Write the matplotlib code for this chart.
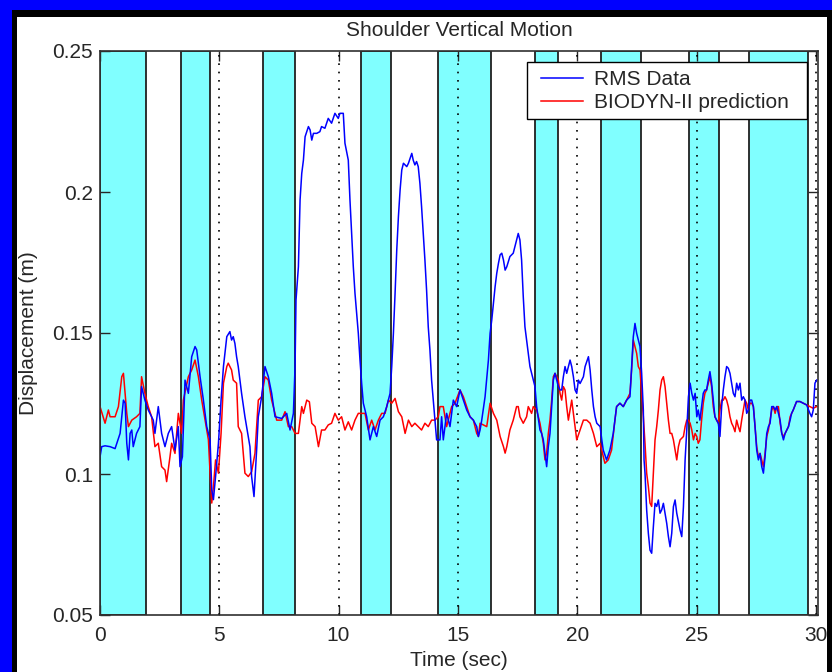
import matplotlib
matplotlib.use("Agg")
import matplotlib.pyplot as plt
from matplotlib import font_manager
from matplotlib.patches import Rectangle

# ---------------- data ----------------
band_starts = [0.0, 3.39, 6.84, 10.96, 14.16, 18.23, 21.0, 24.67, 27.2]
band_ends = [1.95, 4.63, 8.19, 12.2, 16.38, 19.21, 22.69, 25.92, 29.66]

time_rms = [0.01, 0.08, 0.22, 0.43, 0.64, 0.85, 0.99, 1.06, 1.13, 1.20, 1.27, 1.34, 1.40, 1.54, 1.68, 1.75,
            1.89, 2.03, 2.24, 2.31, 2.45, 2.59, 2.73, 2.87, 3.01, 3.15, 3.29, 3.36, 3.46, 3.57, 3.71, 3.85,
            3.99, 4.06, 4.20, 4.34, 4.48, 4.62, 4.69, 4.76, 4.85, 4.97, 5.08, 5.18, 5.32, 5.45, 5.52, 5.59,
            5.66, 5.73, 5.80, 5.94, 6.08, 6.15, 6.29, 6.36, 6.46, 6.57, 6.64, 6.78, 6.92, 7.06, 7.20, 7.34,
            7.62, 7.83, 7.97, 8.11, 8.18, 8.22, 8.32, 8.39, 8.46, 8.53, 8.60, 8.74, 8.81, 8.88, 8.95, 9.09,
            9.22, 9.29, 9.43, 9.57, 9.71, 9.85, 9.99, 10.06, 10.20, 10.27, 10.41, 10.48, 10.55, 10.62, 10.69,
            10.83, 10.90, 10.97, 11.04, 11.18, 11.32, 11.46, 11.60, 11.74, 11.88, 12.02, 12.16, 12.23, 12.30,
            12.37, 12.44, 12.51, 12.58, 12.65, 12.72, 12.86, 12.93, 13.07, 13.13, 13.20, 13.27, 13.34, 13.41,
            13.48, 13.55, 13.62, 13.69, 13.76, 13.83, 13.90, 13.97, 14.04, 14.11, 14.25, 14.32, 14.39, 14.53,
            14.67, 14.81, 14.95, 15.09, 15.23, 15.37, 15.51, 15.65, 15.79, 15.86, 15.93, 16.00, 16.14, 16.28,
            16.35, 16.42, 16.49, 16.56, 16.63, 16.70, 16.77, 16.84, 16.91, 16.98, 17.05, 17.18, 17.32, 17.39,
            17.46, 17.53, 17.60, 17.67, 17.74, 17.81, 17.88, 17.95, 18.02, 18.16, 18.23, 18.30, 18.44, 18.51,
            18.58, 18.65, 18.72, 18.79, 18.86, 18.93, 19.00, 19.07, 19.14, 19.21, 19.28, 19.35, 19.42, 19.49,
            19.56, 19.70, 19.77, 19.84, 19.91, 19.98, 20.05, 20.12, 20.26, 20.33, 20.47, 20.54, 20.61, 20.68,
            20.75, 20.82, 20.96, 21.03, 21.09, 21.23, 21.37, 21.51, 21.58, 21.65, 21.79, 21.93, 22.07, 22.21,
            22.28, 22.35, 22.42, 22.49, 22.63, 22.70, 22.77, 22.80, 22.84, 22.91, 22.98, 23.05, 23.12, 23.19,
            23.26, 23.33, 23.40, 23.47, 23.54, 23.61, 23.68, 23.75, 23.82, 23.89, 23.96, 24.03, 24.10, 24.17,
            24.31, 24.38, 24.45, 24.52, 24.59, 24.66, 24.73, 24.80, 24.87, 24.94, 25.01, 25.07, 25.14, 25.21,
            25.28, 25.35, 25.42, 25.49, 25.56, 25.63, 25.70, 25.77, 25.84, 25.91, 25.98, 26.05, 26.12, 26.19,
            26.26, 26.33, 26.40, 26.47, 26.54, 26.61, 26.68, 26.75, 26.82, 26.89, 26.96, 27.03, 27.10, 27.17,
            27.24, 27.31, 27.38, 27.45, 27.52, 27.59, 27.66, 27.73, 27.80, 27.87, 27.94, 28.01, 28.08, 28.15,
            28.22, 28.29, 28.36, 28.43, 28.50, 28.57, 28.64, 28.71, 28.78, 28.85, 28.92, 28.98, 29.05, 29.19,
            29.33, 29.47, 29.61, 29.75, 29.82, 29.89, 29.96, 30.03]
rms_data = [0.1061, 0.1097, 0.1100, 0.1097, 0.1090, 0.1144, 0.1262, 0.1251, 0.1109, 0.1050, 0.1144, 0.1156,
            0.1097, 0.1144, 0.1168, 0.1310, 0.1262, 0.1227, 0.1191, 0.1144, 0.1239, 0.1144, 0.1097, 0.1144,
            0.1168, 0.1085, 0.1168, 0.1026, 0.1061, 0.1333, 0.1286, 0.1416, 0.1452, 0.1440, 0.1345, 0.1262,
            0.1168, 0.1121, 0.0944, 0.0909, 0.0991, 0.1109, 0.1262, 0.1381, 0.1487, 0.1505, 0.1475, 0.1487,
            0.1463, 0.1416, 0.1381, 0.1286, 0.1203, 0.1168, 0.1097, 0.0991, 0.0920, 0.1085, 0.1203, 0.1274,
            0.1381, 0.1345, 0.1286, 0.1203, 0.1197, 0.1215, 0.1156, 0.1215, 0.1381, 0.1617, 0.1735, 0.1972,
            0.2066, 0.2113, 0.2196, 0.2232, 0.2220, 0.2184, 0.2208, 0.2208, 0.2214, 0.2232, 0.2226, 0.2261,
            0.2244, 0.2279, 0.2261, 0.2279, 0.2279, 0.2173, 0.2113, 0.1972, 0.1853, 0.1735, 0.1641, 0.1499,
            0.1404, 0.1321, 0.1251, 0.1203, 0.1121, 0.1168, 0.1133, 0.1191, 0.1203, 0.1239, 0.1286, 0.1381,
            0.1499, 0.1641, 0.1794, 0.1913, 0.2007, 0.2078, 0.2102, 0.2090, 0.2102, 0.2137, 0.2113, 0.2096,
            0.2108, 0.2090, 0.2031, 0.1948, 0.1853, 0.1759, 0.1652, 0.1522, 0.1440, 0.1333, 0.1262, 0.1191,
            0.1121, 0.1121, 0.1203, 0.1121, 0.1215, 0.1168, 0.1262, 0.1239, 0.1298, 0.1262, 0.1227, 0.1203,
            0.1191, 0.1168, 0.1133, 0.1156, 0.1191, 0.1274, 0.1404, 0.1499, 0.1546, 0.1605, 0.1664, 0.1712,
            0.1747, 0.1777, 0.1783, 0.1759, 0.1723, 0.1735, 0.1771, 0.1783, 0.1806, 0.1830, 0.1853, 0.1830,
            0.1759, 0.1629, 0.1522, 0.1475, 0.1428, 0.1381, 0.1333, 0.1310, 0.1239, 0.1156, 0.1144, 0.1121,
            0.1074, 0.1026, 0.1097, 0.1144, 0.1239, 0.1333, 0.1357, 0.1333, 0.1310, 0.1298, 0.1298, 0.1345,
            0.1381, 0.1357, 0.1404, 0.1381, 0.1345, 0.1298, 0.1286, 0.1333, 0.1321, 0.1345, 0.1381, 0.1416,
            0.1369, 0.1298, 0.1239, 0.1203, 0.1180, 0.1168, 0.1121, 0.1085, 0.1050, 0.1085, 0.1144, 0.1191,
            0.1239, 0.1251, 0.1239, 0.1262, 0.1274, 0.1381, 0.1487, 0.1534, 0.1499, 0.1452, 0.1357, 0.1227,
            0.1050, 0.1003, 0.0872, 0.0790, 0.0730, 0.0719, 0.0813, 0.0896, 0.0885, 0.0908, 0.0861, 0.0873,
            0.0896, 0.0861, 0.0825, 0.0778, 0.0742, 0.0790, 0.0884, 0.0908, 0.0861, 0.0801, 0.0778, 0.0884,
            0.1050, 0.1156, 0.1274, 0.1322, 0.1286, 0.1262, 0.1286, 0.1203, 0.1227, 0.1191, 0.1239, 0.1286,
            0.1298, 0.1298, 0.1333, 0.1363, 0.1322, 0.1262, 0.1203, 0.1191, 0.1180, 0.1133, 0.1239, 0.1298,
            0.1345, 0.1381, 0.1375, 0.1357, 0.1322, 0.1286, 0.1274, 0.1322, 0.1298, 0.1322, 0.1262, 0.1274,
            0.1262, 0.1215, 0.1227, 0.1262, 0.1262, 0.1239, 0.1168, 0.1085, 0.1050, 0.1073, 0.1026, 0.1003,
            0.1061, 0.1144, 0.1168, 0.1180, 0.1239, 0.1239, 0.1227, 0.1239, 0.1215, 0.1191, 0.1144, 0.1121,
            0.1144, 0.1156, 0.1168, 0.1191, 0.1215, 0.1227, 0.1257, 0.1257, 0.1251, 0.1245, 0.1215, 0.1203,
            0.1227, 0.1322, 0.1333]

time_bio = [0.01, 0.22, 0.36, 0.43, 0.64, 0.78, 0.92, 0.99, 1.06, 1.13, 1.20, 1.34, 1.54, 1.68, 1.75, 1.89,
            2.03, 2.17, 2.31, 2.45, 2.59, 2.73, 2.80, 2.94, 3.01, 3.15, 3.29, 3.43, 3.50, 3.71, 3.85, 3.99,
            4.13, 4.27, 4.41, 4.55, 4.62, 4.69, 4.76, 4.85, 4.97, 5.08, 5.18, 5.32, 5.38, 5.52, 5.59, 5.73,
            5.80, 5.94, 6.08, 6.22, 6.36, 6.50, 6.64, 6.78, 6.92, 7.06, 7.20, 7.41, 7.62, 7.76, 7.90, 8.04,
            8.18, 8.32, 8.46, 8.53, 8.67, 8.78, 8.88, 9.02, 9.16, 9.29, 9.43, 9.57, 9.71, 9.85, 9.99, 10.13,
            10.27, 10.41, 10.55, 10.69, 10.83, 10.97, 11.11, 11.25, 11.39, 11.53, 11.67, 11.81, 11.95, 12.09,
            12.23, 12.37, 12.51, 12.65, 12.79, 12.93, 13.07, 13.20, 13.34, 13.48, 13.62, 13.76, 13.90, 14.04,
            14.18, 14.25, 14.39, 14.53, 14.74, 14.88, 15.09, 15.23, 15.37, 15.51, 15.65, 15.79, 15.86, 15.93,
            16.07, 16.21, 16.35, 16.49, 16.63, 16.77, 16.91, 16.98, 17.05, 17.18, 17.32, 17.46, 17.53, 17.60,
            17.74, 17.88, 17.95, 18.09, 18.16, 18.30, 18.44, 18.58, 18.65, 18.72, 18.79, 18.86, 18.93, 19.00,
            19.07, 19.14, 19.21, 19.28, 19.35, 19.42, 19.49, 19.56, 19.63, 19.77, 19.91, 19.98, 20.12, 20.26,
            20.40, 20.54, 20.68, 20.82, 20.96, 21.09, 21.16, 21.30, 21.44, 21.58, 21.65, 21.79, 21.93, 22.07,
            22.21, 22.28, 22.35, 22.42, 22.49, 22.56, 22.63, 22.70, 22.77, 22.84, 22.91, 22.98, 23.05, 23.12,
            23.19, 23.26, 23.33, 23.40, 23.47, 23.54, 23.61, 23.68, 23.75, 23.82, 23.89, 23.96, 24.03, 24.10,
            24.17, 24.24, 24.31, 24.45, 24.52, 24.59, 24.66, 24.73, 24.80, 24.87, 24.94, 25.01, 25.07, 25.14,
            25.21, 25.28, 25.35, 25.42, 25.49, 25.56, 25.63, 25.70, 25.77, 25.84, 25.91, 25.98, 26.05, 26.12,
            26.19, 26.26, 26.33, 26.40, 26.47, 26.54, 26.61, 26.68, 26.75, 26.82, 26.89, 26.96, 27.03, 27.10,
            27.17, 27.24, 27.31, 27.38, 27.45, 27.52, 27.59, 27.66, 27.73, 27.80, 27.87, 27.94, 28.01, 28.08,
            28.15, 28.22, 28.29, 28.36, 28.43, 28.50, 28.57, 28.64, 28.71, 28.78, 28.85, 28.92, 29.05, 29.19,
            29.33, 29.47, 29.61, 29.75, 29.89, 30.03]
biodyn_pred = [0.1239, 0.1180, 0.1227, 0.1203, 0.1203, 0.1239, 0.1345, 0.1357, 0.1286, 0.1215, 0.1168, 0.1191,
               0.1203, 0.1215, 0.1345, 0.1286, 0.1239, 0.1203, 0.1097, 0.1109, 0.1026, 0.1014, 0.0973, 0.1061,
               0.1109, 0.1073, 0.1215, 0.1144, 0.1262, 0.1345, 0.1369, 0.1404, 0.1345, 0.1262, 0.1191, 0.1121,
               0.1003, 0.0897, 0.0956, 0.1050, 0.1003, 0.1144, 0.1322, 0.1381, 0.1393, 0.1369, 0.1333, 0.1322,
               0.1168, 0.1144, 0.1003, 0.0991, 0.1008, 0.1073, 0.1262, 0.1274, 0.1345, 0.1333, 0.1262, 0.1191,
               0.1191, 0.1221, 0.1168, 0.1168, 0.1144, 0.1144, 0.1239, 0.1215, 0.1262, 0.1256, 0.1180, 0.1168,
               0.1097, 0.1156, 0.1156, 0.1174, 0.1180, 0.1215, 0.1191, 0.1203, 0.1156, 0.1185, 0.1156, 0.1191,
               0.1215, 0.1215, 0.1215, 0.1156, 0.1191, 0.1156, 0.1191, 0.1215, 0.1215, 0.1262, 0.1251, 0.1268,
               0.1221, 0.1203, 0.1144, 0.1191, 0.1168, 0.1180, 0.1168, 0.1156, 0.1180, 0.1168, 0.1191, 0.1191,
               0.1203, 0.1239, 0.1239, 0.1168, 0.1239, 0.1251, 0.1298, 0.1274, 0.1239, 0.1203, 0.1191, 0.1144,
               0.1133, 0.1180, 0.1174, 0.1168, 0.1251, 0.1215, 0.1191, 0.1133, 0.1097, 0.1074, 0.1097, 0.1156,
               0.1191, 0.1239, 0.1239, 0.1203, 0.1180, 0.1203, 0.1239, 0.1215, 0.1239, 0.1227, 0.1180, 0.1109,
               0.1050, 0.1074, 0.1144, 0.1191, 0.1262, 0.1345, 0.1357, 0.1345, 0.1333, 0.1286, 0.1262, 0.1310,
               0.1298, 0.1239, 0.1191, 0.1262, 0.1168, 0.1121, 0.1156, 0.1191, 0.1191, 0.1180, 0.1144, 0.1097,
               0.1109, 0.1062, 0.1038, 0.1050, 0.1085, 0.1191, 0.1239, 0.1251, 0.1239, 0.1262, 0.1286, 0.1369,
               0.1475, 0.1452, 0.1428, 0.1381, 0.1369, 0.1286, 0.1203, 0.1109, 0.1003, 0.0956, 0.0897, 0.0885,
               0.1003, 0.1121, 0.1168, 0.1227, 0.1298, 0.1333, 0.1345, 0.1310, 0.1251, 0.1191, 0.1144, 0.1144,
               0.1121, 0.1085, 0.1050, 0.1097, 0.1121, 0.1133, 0.1168, 0.1191, 0.1191, 0.1180, 0.1156, 0.1121,
               0.1144, 0.1133, 0.1109, 0.1121, 0.1191, 0.1251, 0.1286, 0.1298, 0.1322, 0.1345, 0.1310, 0.1239,
               0.1203, 0.1191, 0.1180, 0.1227, 0.1262, 0.1262, 0.1274, 0.1262, 0.1239, 0.1203, 0.1180, 0.1168,
               0.1150, 0.1191, 0.1168, 0.1150, 0.1191, 0.1227, 0.1262, 0.1251, 0.1227, 0.1251, 0.1251, 0.1239,
               0.1168, 0.1097, 0.1061, 0.1073, 0.1050, 0.1026, 0.1073, 0.1133, 0.1156, 0.1191, 0.1227, 0.1239,
               0.1215, 0.1239, 0.1239, 0.1180, 0.1144, 0.1133, 0.1144, 0.1156, 0.1168, 0.1203, 0.1227, 0.1257,
               0.1257, 0.1251, 0.1245, 0.1239, 0.1233, 0.1239]

x_ticks = [0, 5, 10, 15, 20, 25, 30]
y_ticks = [0.05, 0.1, 0.15, 0.2, 0.25]
y_tick_labels = ["0.05", "0.1", "0.15", "0.2", "0.25"]

# ---------------- fonts ----------------
names = {f.name for f in font_manager.fontManager.ttflist}
if "Liberation Sans Narrow" in names:
    FONT = ["Liberation Sans Narrow", "DejaVu Sans"]
    FS = 18
else:
    FONT = ["Liberation Sans", "DejaVu Sans"]
    FS = 15
plt.rcParams["font.family"] = FONT
TXT = "#262626"

W, H = 832, 672
fig = plt.figure(figsize=(W / 100, H / 100), dpi=100, facecolor="#0000FF")

# black frame and white panel
fig.add_artist(Rectangle((12 / W, 0), (W - 12) / W, (H - 10) / H, transform=fig.transFigure,
                         facecolor="black", edgecolor="none", zorder=-20))
fig.add_artist(Rectangle((17 / W, 0), (827 - 17) / W, (H - 17) / H, transform=fig.transFigure,
                         facecolor="white", edgecolor="none", zorder=-19))
# right black strip clipping the figure
fig.add_artist(Rectangle((827 / W, 0), 5 / W, (H - 10) / H, transform=fig.transFigure,
                         facecolor="black", edgecolor="none", zorder=20))

left_px, right_px, top_px, bottom_px = 99.8, 818.3, 51, 615
ax = fig.add_axes([left_px / W, 1 - bottom_px / H, (right_px - left_px) / W, (bottom_px - top_px) / H])
ax.set_facecolor("white")

for s, e in zip(band_starts, band_ends):
    ax.axvspan(s, e, facecolor="#80FFFF", edgecolor="#202020", linewidth=1.3, zorder=1)

for xt in x_ticks[1:]:
    ax.axvline(xt, color="black", linestyle=(0, (1, 4)), linewidth=1.2, zorder=2)

ax.plot(time_rms, rms_data, color="#0000FF", linewidth=1.1, label="RMS Data", zorder=4)
ax.plot(time_bio, biodyn_pred, color="#FF0000", linewidth=1.1, label="BIODYN-II prediction", zorder=3)

ax.set_xlim(0, 30.1)
ax.set_ylim(0.05, 0.25)
ax.set_xticks(x_ticks)
ax.set_xticklabels([str(v) for v in x_ticks])
ax.set_yticks(y_ticks)
ax.set_yticklabels(y_tick_labels)
ax.tick_params(direction="in", length=7, width=1, top=True, right=True, labelsize=FS,
               colors=TXT)
ax.tick_params(axis="x", pad=8)
ax.tick_params(axis="y", pad=5)
for sp in ax.spines.values():
    sp.set_color("#303030")
    sp.set_linewidth(1.2)
    sp.set_zorder(5)

fig.text((left_px + right_px) / 2 / W, 1 - 31 / H, "Shoulder Vertical Motion", ha="center", va="center",
         fontsize=FS, color=TXT)
fig.text((left_px + right_px) / 2 / W, 1 - 651 / H, "Time (sec)", ha="center", va="top",
         fontsize=FS, color=TXT)
fig.text(29 / W, 1 - 333 / H, "Displacement (m)", ha="center", va="center", rotation=90,
         fontsize=FS, color=TXT)

# legend: frame drawn separately to get wider side padding
legend_box = Rectangle((527 / W, 1 - 119 / H), 280 / W, 57 / H, transform=fig.transFigure,
                       facecolor="white", edgecolor="black", linewidth=1.0, zorder=9)
ax.add_artist(legend_box)
leg = ax.legend(loc="upper left", bbox_to_anchor=(541 / W, 1 - 70 / H), bbox_transform=fig.transFigure,
                borderaxespad=0, frameon=False, fontsize=FS,
                handlelength=2.0, handletextpad=0.55, labelspacing=0.2, borderpad=0.0)
for t in leg.get_texts():
    t.set_color(TXT)
leg.set_zorder(10)

fig.savefig("out.png", dpi=100, facecolor=fig.get_facecolor())
